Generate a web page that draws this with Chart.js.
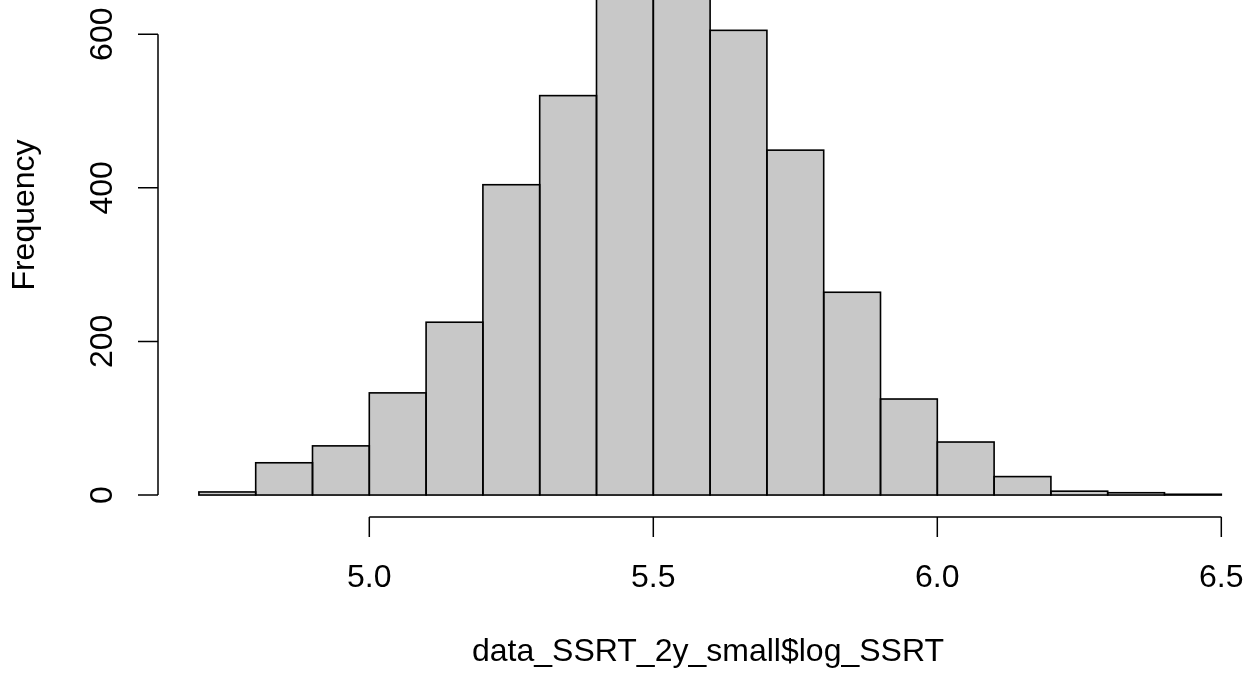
<!DOCTYPE html>
<html>
<head>
<meta charset="utf-8">
<script src="https://cdn.jsdelivr.net/npm/chart.js@4/dist/chart.umd.min.js"></script>
<style>
  body { margin: 0; background: #fff; }
  canvas { display: block; }
</style>
</head>
<body>
<canvas id="hist" width="1248" height="675"></canvas>
<script>
// histogram bins (width 0.1) and counts
const binStarts = [4.7, 4.8, 4.9, 5.0, 5.1, 5.2, 5.3, 5.4, 5.5, 5.6, 5.7, 5.8, 5.9, 6.0, 6.1, 6.2, 6.3, 6.4];
const counts = [4, 42, 64, 133, 225, 404, 520, 688, 715, 605, 449, 264, 125, 69, 24, 5, 3, 1];
const xTicks = [5.0, 5.5, 6.0, 6.5];
const yTicks = [0, 200, 400, 600];
const xTitle = "data_SSRT_2y_small$log_SSRT";
const yTitle = "Frequency";

const binWidth = 0.1;
const FONT = "32px 'Liberation Sans', Arial, sans-serif";

// outline every bar like R's rect() (single line on shared edges, visible even for tiny bars)
const barOutlines = {
  id: "barOutlines",
  afterDatasetsDraw(chart) {
    const ctx = chart.ctx;
    const area = chart.chartArea;
    const meta = chart.getDatasetMeta(0);
    ctx.save();
    ctx.beginPath();
    ctx.rect(area.left, area.top - 1, area.right - area.left, area.bottom - area.top + 1);
    ctx.clip();
    ctx.strokeStyle = "#000";
    ctx.lineWidth = 1.6;
    meta.data.forEach((bar) => {
      const p = bar.getProps(["x", "y", "base", "width"], true);
      ctx.strokeRect(p.x - p.width / 2, p.y, p.width, p.base - p.y);
    });
    ctx.restore();
  },
};

// R style axes: line only across the tick range, ticks pointing outwards
const rAxes = {
  id: "rAxes",
  afterDraw(chart) {
    const ctx = chart.ctx;
    const xs = chart.scales.x;
    const ys = chart.scales.y;
    const area = chart.chartArea;
    ctx.save();
    ctx.strokeStyle = "#000";
    ctx.fillStyle = "#000";
    ctx.lineWidth = 1.5;
    ctx.font = FONT;

    // x axis
    const axY = area.bottom;
    ctx.beginPath();
    ctx.moveTo(xs.getPixelForValue(xTicks[0]), axY);
    ctx.lineTo(xs.getPixelForValue(xTicks[xTicks.length - 1]), axY);
    xTicks.forEach((t) => {
      const px = xs.getPixelForValue(t);
      ctx.moveTo(px, axY);
      ctx.lineTo(px, axY + 20);
    });
    ctx.stroke();
    ctx.textAlign = "center";
    ctx.textBaseline = "middle";
    xTicks.forEach((t) => {
      ctx.fillText(t.toFixed(1), xs.getPixelForValue(t), axY + 61);
    });
    ctx.fillText(xTitle, 708, 652);

    // y axis
    const axX = area.left;
    ctx.beginPath();
    ctx.moveTo(axX, ys.getPixelForValue(yTicks[0]));
    ctx.lineTo(axX, ys.getPixelForValue(yTicks[yTicks.length - 1]));
    yTicks.forEach((t) => {
      const py = ys.getPixelForValue(t);
      ctx.moveTo(axX, py);
      ctx.lineTo(axX - 20, py);
    });
    ctx.stroke();
    ctx.textBaseline = "alphabetic";
    yTicks.forEach((t) => {
      ctx.save();
      ctx.translate(112, ys.getPixelForValue(t));
      ctx.rotate(-Math.PI / 2);
      ctx.fillText(String(t), 0, 0);
      ctx.restore();
    });
    ctx.save();
    ctx.translate(34, 215);
    ctx.rotate(-Math.PI / 2);
    ctx.fillText(yTitle, 0, 0);
    ctx.restore();

    ctx.restore();
  },
};

const points = binStarts.map((b, i) => ({ x: b + binWidth / 2, y: counts[i] }));

new Chart(document.getElementById("hist"), {
  type: "bar",
  data: {
    datasets: [
      {
        data: points,
        backgroundColor: "#c8c8c8",
        borderWidth: 0,
        barPercentage: 1,
        categoryPercentage: 1,
      },
    ],
  },
  options: {
    responsive: false,
    animation: false,
    layout: { padding: { left: 158, right: 0, top: 0, bottom: 158 } },
    plugins: { legend: { display: false }, tooltip: { enabled: false } },
    scales: {
      x: { type: "linear", min: 4.628, max: 6.547, offset: false, display: false },
      y: { min: -28.6, max: 644.5, display: false },
    },
  },
  plugins: [barOutlines, rAxes],
});
</script>
</body>
</html>
